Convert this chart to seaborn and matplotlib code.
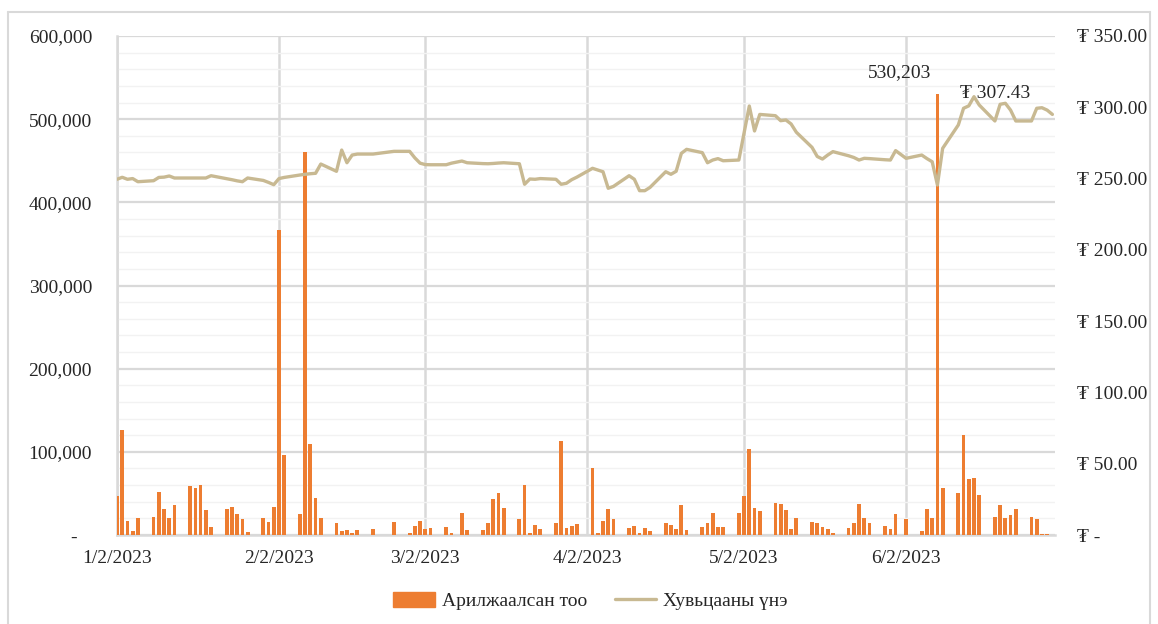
"""
    Trading volume (bars) and share price (line), Jan-Jun 2023
"""

import pandas as pd
import seaborn as sns
import matplotlib.pyplot as plt
import matplotlib.dates as mdates
from matplotlib.patches import Patch
from matplotlib.lines import Line2D
from matplotlib.ticker import MultipleLocator, FuncFormatter

# trading days per month (2023)
jan_days = [2, 3, 4, 5, 6, 9, 10, 11, 12, 13, 16, 17, 18, 19, 20, 23, 24, 25, 26, 27, 30, 31]
feb_days = [1, 2, 3, 6, 7, 8, 9, 10, 13, 14, 15, 16, 17, 20, 24, 27, 28]
mar_days = [1, 2, 3, 6, 7, 9, 10, 13, 14, 15, 16, 17, 20, 21, 22, 23, 24, 27, 28, 29, 30, 31]
apr_days = [3, 4, 5, 6, 7, 10, 11, 12, 13, 14, 17, 18, 19, 20, 21, 24, 25, 26, 27, 28]
may_days = [1, 2, 3, 4, 5, 8, 9, 10, 11, 12, 15, 16, 17, 18, 19, 22, 23, 24, 25, 26, 29, 30, 31]
jun_days = [2, 5, 6, 7, 8, 9, 12, 13, 14, 15, 16, 19, 20, 21, 22, 23, 26, 27, 28, 29, 30]

# traded quantity
volume = [
    47000, 126000, 17000, 4400, 21000, 22000, 52000, 31000, 20000, 36000, 58500,
    57000, 60000, 30000, 10000, 31000, 34000, 25000, 19000, 3600, 21000, 16000,
    34000, 367000, 96500, 25000, 460000, 110000, 45000, 21000, 15000, 4400, 6000,
    2000, 6000, 7600, 16000, 3000, 11000,
    17000, 7600, 8400, 9600, 2000, 27000, 6000, 6000, 15000, 43000, 50000,
    32000, 19000, 60000, 2000, 12000, 7000, 15000, 112600, 9000, 11000, 13600,
    80000, 3000, 17000, 31000, 19000, 9000, 11000, 3000, 9000, 4800,
    15000, 12600, 7600, 36000, 6000, 9600, 15000, 26000, 9600, 9600,
    26000, 47000, 103700, 32000, 28500, 38500, 37000, 30000, 7000, 21000, 16000,
    14000, 9600, 7000, 2000, 8400, 15000, 37000, 21000, 14000, 11000, 7000, 25000,
    19000, 4400, 31000, 20000, 530203, 56000, 51000, 120000, 67000, 69000, 48000,
    22000, 36000, 20000, 23600, 31000, 22000, 19000, 1000, 1000, 0,
]

# share price (MNT)
price = [
    249.5, 250.9, 249.5, 250.0, 247.8, 248.5, 250.8, 251.0, 251.8, 250.4, 250.4,
    250.4, 250.4, 250.4, 252.0, 249.9, 249.2, 248.4, 247.8, 250.4, 248.7, 247.3,
    245.7, 250.0, 250.8, 252.5, 253.0, 253.4, 253.7, 260.2, 255.1, 270.0, 261.1,
    266.5, 267.2, 267.2, 269.1, 269.1, 264.5,
    260.8, 259.8, 259.7, 259.7, 260.8, 262.3, 261.1, 260.5, 260.4, 260.6, 260.9,
    261.1, 260.4, 246.0, 249.7, 249.5, 250.0, 249.5, 246.0, 246.7, 249.2, 251.0,
    257.2, 256.0, 254.8, 243.2, 244.5, 252.0, 249.5, 241.5, 241.5, 243.8,
    254.8, 253.0, 255.1, 267.7, 270.5, 268.2, 261.1, 263.0, 264.0, 262.5,
    263.0, 282.0, 300.9, 283.4, 295.0, 294.1, 290.6, 291.1, 288.3, 282.5, 271.9,
    265.5, 263.7, 266.5, 268.9, 266.0, 264.8, 263.0, 264.2, 264.0, 263.2, 263.0, 269.6,
    264.2, 266.5, 264.0, 261.8, 245.5, 271.2, 287.6, 299.3, 301.0, 307.43, 301.6,
    290.4, 302.1, 302.8, 298.0, 290.4, 290.4, 299.3, 299.7, 298.0, 295.0,
]

month_ticks = ['2023-01-02', '2023-02-02', '2023-03-02', '2023-04-02', '2023-05-02', '2023-06-02']
bar_label = 'Арилжаалсан тоо'
line_label = 'Хувьцааны үнэ'

BAR_COLOR = '#ed7d31'
LINE_COLOR = '#c8b992'
GRID = '#d9d9d9'
FS = 14

sns.set_theme(style='white')
plt.rcParams['font.family'] = ['Liberation Serif', 'DejaVu Serif']
plt.rcParams['font.size'] = FS

# build the dataframe
dates = []
for m, days in zip(range(1, 7), [jan_days, feb_days, mar_days, apr_days, may_days, jun_days]):
    dates += [pd.Timestamp(2023, m, d) for d in days]
df = pd.DataFrame({'date': dates, 'volume': volume, 'price': price})

fig = plt.figure(figsize=(11.58, 6.24), dpi=100)
ax = fig.add_axes([117 / 1158, 89 / 624, 938 / 1158, 499 / 624])

# outer chart frame
fig.add_artist(plt.Line2D([8 / 1158, 8 / 1158], [0, 612 / 624], color=GRID, lw=1.5))
fig.add_artist(plt.Line2D([8 / 1158, 1150 / 1158], [612 / 624, 612 / 624], color=GRID, lw=1.5))
fig.add_artist(plt.Line2D([1150 / 1158, 1150 / 1158], [0, 612 / 624], color=GRID, lw=1.5))

# bars on the left axis
ax.bar(df['date'], df['volume'], width=0.72, color=BAR_COLOR, lw=0, zorder=3)

start = pd.Timestamp('2023-01-02')
ax.set_xlim(start, start + pd.Timedelta(hours=179.5 * 24))
ax.set_ylim(0, 600000)
ax.yaxis.set_major_locator(MultipleLocator(100000))
ax.yaxis.set_minor_locator(MultipleLocator(20000))
ax.yaxis.set_major_formatter(FuncFormatter(lambda v, p: '-   ' if v == 0 else f'{v:,.0f}'))
ax.grid(axis='y', which='major', color=GRID, lw=1.6, zorder=0)
ax.grid(axis='y', which='minor', color='#f2f2f2', lw=1.0, zorder=0)

ax.set_xticks(pd.to_datetime(month_ticks))
ax.xaxis.set_major_formatter(mdates.DateFormatter('%-m/%-d/%Y'))
ax.grid(axis='x', which='major', color=GRID, lw=1.8, zorder=0)

ax.tick_params(axis='y', which='both', length=0, pad=18, labelsize=FS)
ax.tick_params(axis='x', length=0, pad=11, labelsize=FS)
for side in ['top', 'right']:
    ax.spines[side].set_visible(False)
ax.spines['left'].set_color(GRID)
ax.spines['left'].set_linewidth(1.8)
ax.spines['bottom'].set_color(GRID)
ax.spines['bottom'].set_linewidth(1.8)
ax.set_xlabel('')
ax.set_ylabel('')

# price line on the right axis
ax2 = ax.twinx()
sns.lineplot(data=df, x='date', y='price', ax=ax2, color=LINE_COLOR, lw=2.4)
ax2.set_ylim(0, 350)
ax2.yaxis.set_major_locator(MultipleLocator(50))
ax2.yaxis.set_major_formatter(FuncFormatter(lambda v, p: '₮ -' if v == 0 else f'₮ {v:.2f}'))
ax2.tick_params(axis='y', length=0, pad=16, labelsize=FS)
for side in ['top', 'right', 'left', 'bottom']:
    ax2.spines[side].set_visible(False)
ax2.set_xlabel('')
ax2.set_ylabel('')
ax2.set_xlim(ax.get_xlim())

# data labels for the maximum values
imax = df['volume'].idxmax()
ax2.annotate(f"{df.loc[imax, 'volume']:,}",
             xy=(df.loc[imax, 'date'], df.loc[imax, 'volume'] * 350 / 600000),
             xytext=(-38, 21), textcoords='offset pixels', ha='center', va='center', fontsize=FS)
pmax = df['price'].idxmax()
ax2.annotate(f"₮ {df.loc[pmax, 'price']:.2f}",
             xy=(df.loc[pmax, 'date'], df.loc[pmax, 'price']),
             xytext=(21, 3), textcoords='offset pixels', ha='center', va='center', fontsize=FS)

handles = [Patch(color=BAR_COLOR, label=bar_label),
           Line2D([0], [0], color=LINE_COLOR, lw=2.4, label=line_label)]
fig.legend(handles=handles, loc='center', bbox_to_anchor=(0.510, 0.037), ncol=2,
           frameon=False, fontsize=FS, handlelength=2.15, handleheight=0.8,
           handletextpad=0.35, columnspacing=1.4)

fig.savefig('out.png', dpi=100)
